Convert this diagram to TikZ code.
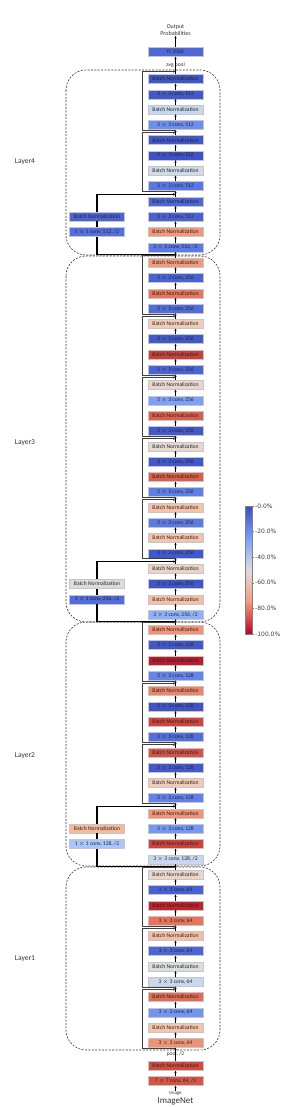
\documentclass[tikz,border=0pt]{standalone}
\usepackage{fontspec}
\setmainfont{Carlito}
\newfontfamily\barfont{DejaVu Sans}
\usetikzlibrary{arrows.meta}
\newcommand{\bnlab}{Batch Normalization}
\newcommand{\convlab}[1]{3 $\times$ 3 conv, #1}
\definecolor{cwa}{HTML}{3B4CC0}
\definecolor{cwb}{HTML}{7B9FF9}
\definecolor{cwc}{HTML}{DDDCDC}
\definecolor{cwd}{HTML}{F49A7B}
\definecolor{cwe}{HTML}{B40426}
\tikzset{
  layer/.style={draw=black!80, line width=0.6pt, dash pattern=on 2pt off 1.4pt, rounded corners=20pt},
  box/.style={draw=gray!45, line width=0.4pt, minimum width=55pt, minimum height=9pt, inner sep=0pt,
    font=\fontsize{5.6}{6}\selectfont, text=black!85},
  lab/.style={inner sep=0.5pt, font=\fontsize{5.5}{6}\selectfont, text=black!80},
  flow/.style={-{Stealth[length=2.4pt,width=2.2pt]}, line width=0.7pt},
  skip/.style={-{Stealth[length=2.4pt,width=2.2pt]}, draw=black!75, line width=1pt},
  shortcut/.style={-{Stealth[length=2.6pt,width=2.4pt]}, line width=1.3pt},
  bar/.style={inner sep=1pt, font=\barfont\fontsize{6}{7}\selectfont, text=black!75},
}
\begin{document}
\begin{tikzpicture}[x=1pt, y=-1pt]
\useasboundingbox (0,0) rectangle (305,1107);
% layer frames
\draw[layer] (66,70) rectangle (220,255);
\draw[layer] (66,256) rectangle (220,622);
\draw[layer] (66,622) rectangle (220,866);
\draw[layer] (66,867) rectangle (220,1050);
\node[font=\fontsize{7.5}{8}\selectfont, text=black!80] (l4) at (25,162) {Layer4};
\node[font=\fontsize{7.5}{8}\selectfont, text=black!80] (l3) at (25,443) {Layer3};
\node[font=\fontsize{7.5}{8}\selectfont, text=black!80] (l2) at (25,756) {Layer2};
\node[font=\fontsize{7.5}{8}\selectfont, text=black!80] (l1) at (25,959) {Layer1};
% main column, top (layer4) to bottom (layer1)
\foreach \i/\lab/\col in {
  0/\bnlab/4055C8, 1/{\convlab{512}}/4358CB, 2/\bnlab/C7D7F0, 3/{\convlab{512}}/6C8FF1,
  4/\bnlab/4358CB, 5/{\convlab{512}}/3E51C5, 6/\bnlab/CFDAEA, 7/{\convlab{512}}/5977E3,
  8/\bnlab/4C66D6, 9/{\convlab{512}}/4961D2, 10/\bnlab/F39778, 11/{\convlab{512, /2}}/5B7AE5,
  12/\bnlab/F49A7B, 13/{\convlab{256}}/4A63D3, 14/\bnlab/E8765C, 15/{\convlab{256}}/516DDB,
  16/\bnlab/F2CBB7, 17/{\convlab{256}}/4358CB, 18/\bnlab/CC403A, 19/{\convlab{256}}/4B64D5,
  20/\bnlab/E9D5CB, 21/{\convlab{256}}/7DA0F9, 22/\bnlab/DD5F4B, 23/{\convlab{256}}/4358CB,
  24/\bnlab/E5D8D1, 25/{\convlab{256}}/4257C9, 26/\bnlab/DC5D4A, 27/{\convlab{256}}/5F7FE8,
  28/\bnlab/F5C2AA, 29/{\convlab{256}}/5B7AE5, 30/\bnlab/F5C4AC, 31/{\convlab{256}}/4358CB,
  32/\bnlab/ECD3C5, 33/{\convlab{256}}/4055C8, 34/\bnlab/F6BFA6, 35/{\convlab{256, /2}}/8DB0FE,
  36/\bnlab/F39475, 37/{\convlab{128}}/4257C9, 38/\bnlab/BB1B2C, 39/{\convlab{128}}/6485EC,
  40/\bnlab/EE8468, 41/{\convlab{128}}/3F53C6, 42/\bnlab/CF453C, 43/{\convlab{128}}/536EDD,
  44/\bnlab/D65244, 45/{\convlab{128}}/4358CB, 46/\bnlab/F2CAB5, 47/{\convlab{128}}/6180E9,
  48/\bnlab/F39475, 49/{\convlab{128}}/7597F6, 50/\bnlab/CD423B, 51/{\convlab{128, /2}}/C9D7F0,
  52/\bnlab/EAD5C9, 53/{\convlab{64}}/4961D2, 54/\bnlab/BE242E, 55/{\convlab{64}}/E7745B,
  56/\bnlab/F6BDA2, 57/{\convlab{64}}/4C66D6, 58/\bnlab/DCDDDD, 59/{\convlab{64}}/CAD8EF,
  60/\bnlab/E36B54, 61/{\convlab{64}}/7295F4, 62/\bnlab/F4C5AD, 63/{\convlab{64}}/F29274} {
  \definecolor{boxcol}{HTML}{\col}
  \node[box, fill=boxcol] (b\i) at (175.5, {79+15.3*\i}) {\lab};
}
\foreach \i in {0,...,62} {
  \pgfmathtruncatemacro{\j}{\i+1}
  \draw[flow] (b\j) -- (b\i);
}
% identity shortcuts
\foreach \s in {0,4,12,16,20,24,28,36,40,44,52,56,60} {
  \coordinate (sb\s) at (175.5, {79+15.3*(\s+3)+5.5});
  \coordinate (st\s) at (175.5, {79+15.3*\s-7.5});
  \draw[skip] (sb\s) -- ++(-33.5,0) |- (st\s);
}
% downsampling shortcuts
\foreach \s/\lab/\cola/\colb in {8/{1 $\times$ 1 conv, 512, /2}/4B64D5/5470DE,
  32/{1 $\times$ 1 conv, 256, /2}/DDDCDC/516DDB, 48/{1 $\times$ 1 conv, 128, /2}/F7B89C/AAC7FD} {
  \definecolor{bncol}{HTML}{\cola}
  \definecolor{cvcol}{HTML}{\colb}
  \node[box, fill=bncol] (sn\s) at (97, {79+15.3*(\s+1)}) {\bnlab};
  \node[box, fill=cvcol] (sc\s) at (97, {79+15.3*(\s+2)}) {\lab};
  \coordinate (db\s) at (175.5, {79+15.3*(\s+3)+7});
  \coordinate (dt\s) at (175.5, {79+15.3*\s-7});
  \draw[shortcut, -] (db\s) -| (sc\s);
  \draw[shortcut, -] (sc\s) -- (sn\s);
  \draw[shortcut] (sn\s) |- (dt\s);
}
% head
\definecolor{fccol}{HTML}{4E68D8}
\node[box, fill=fccol] (fc) at (175.5,52) {fc 1000};
\node[lab] (avg) at (175.5,65) {avg pool};
\node[lab, align=center, font=\fontsize{6}{6.5}\selectfont] (out) at (175.5,30) {Output\\Probabilities};
\draw[flow] (b0) -- (fc);
\draw[flow] (fc) -- (out);
% stem
\definecolor{stbn}{HTML}{D24B40}
\definecolor{stcv}{HTML}{D75445}
\node[lab] (pool) at (175.5,1054) {pool, /2};
\node[box, fill=stbn] (stembn) at (175.5,1066) {\bnlab};
\node[box, fill=stcv] (stemcv) at (175.5,1081) {7 $\times$ 7 conv, 64, /2};
\node[lab, font=\fontsize{5}{5.5}\selectfont] (img) at (175.5,1093.5) {Image};
\node[inner sep=0pt, font=\fontsize{9}{10}\selectfont, text=black!80] (inet) at (175.5,1101.5) {ImageNet};
\draw[flow] (stembn) -- (b63);
\draw[flow] (stemcv) -- (stembn);
\draw[flow] (img) -- (stemcv);
% colour bar
\shade[top color=cwa, bottom color=cwb] (245,506) rectangle (252,538);
\shade[top color=cwb, bottom color=cwc] (245,538) rectangle (252,570);
\shade[top color=cwc, bottom color=cwd] (245,570) rectangle (252,602);
\shade[top color=cwd, bottom color=cwe] (245,602) rectangle (252,634);
\draw[gray, line width=0.4pt] (245,506) rectangle (252,634);
\foreach \p [count=\n from 0] in {0.0,20.0,40.0,60.0,80.0,100.0} {
  \draw[gray, line width=0.4pt] (252, {506+25.6*\n}) -- (254, {506+25.6*\n});
  \node[bar, anchor=west] (t\n) at (254, {506+25.6*\n}) {-\p\%};
}
\end{tikzpicture}
\end{document}
